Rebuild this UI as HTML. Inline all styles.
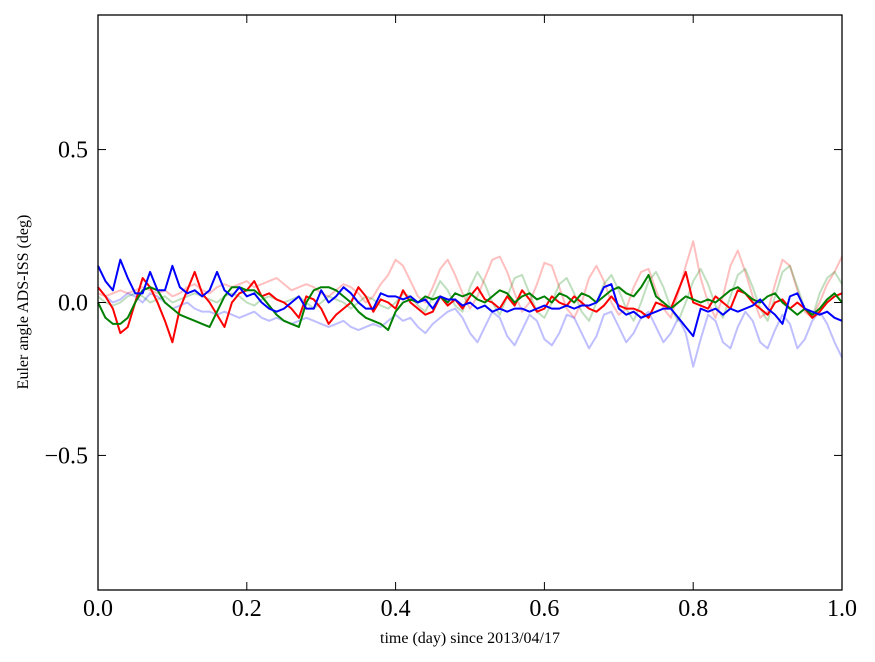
<!DOCTYPE html>
<html><head><meta charset="utf-8"><style>
body{margin:0;background:#fff}
svg{display:block;font-family:"Liberation Serif",serif}
</style></head><body>
<svg id="chart" width="875" height="662" viewBox="0 0 875 662">
<rect x="0" y="0" width="875" height="662" fill="#fff"/>
<g id="series"></g>
<rect x="98" y="15" width="744" height="575" fill="none" stroke="#000" stroke-width="1.3"/>
<g id="axes"></g>
<text x="470" y="643" font-size="16" text-anchor="middle">time (day) since 2013/04/17</text>
<text transform="translate(28,302) rotate(-90)" font-size="16" text-anchor="middle">Euler angle ADS-ISS (deg)</text>
</svg>
<script>
const xTicks=[0,0.2,0.4,0.6,0.8,1.0];
const xTickLabels=["0.0","0.2","0.4","0.6","0.8","1.0"];
const yTicks=[-0.5,0,0.5];
const yTickLabels=["\u22120.5","0.0","0.5"];
const redLight=[0.03,0.02,0.03,0.04,0.03,0.04,0.05,0.04,0.03,0.04,0.02,0.03,0.05,0.06,0.04,0.03,0.05,0.06,0.05,0.06,0.07,0.05,0.06,0.07,0.08,0.06,0.04,0.05,0.06,0.05,0.03,0.02,0.04,0.06,0.05,0.03,0.0,0.02,0.06,0.09,0.14,0.12,0.07,0.02,0.0,0.05,0.11,0.14,0.09,0.03,-0.02,0.02,0.08,0.14,0.15,0.1,0.03,-0.03,0.0,0.06,0.13,0.12,0.05,-0.02,-0.05,0.0,0.08,0.12,0.07,0.0,-0.04,-0.02,0.05,0.1,0.11,0.04,-0.02,-0.05,0.03,0.12,0.2,0.08,0.0,-0.05,0.02,0.12,0.17,0.1,0.02,-0.05,-0.03,0.06,0.14,0.12,0.04,-0.03,-0.05,0.0,0.06,0.1,0.15];
const blueLight=[0.05,0.02,0.0,0.01,0.03,0.02,0.0,0.03,0.02,0.0,-0.02,-0.01,0.0,-0.02,-0.03,-0.03,-0.04,-0.03,-0.04,-0.05,-0.04,-0.03,-0.05,-0.06,-0.05,-0.06,-0.07,-0.06,-0.05,-0.06,-0.07,-0.08,-0.07,-0.06,-0.08,-0.09,-0.08,-0.07,-0.08,-0.06,-0.04,-0.06,-0.05,-0.08,-0.1,-0.07,-0.05,-0.03,-0.02,-0.05,-0.1,-0.13,-0.08,-0.03,-0.05,-0.11,-0.14,-0.09,-0.04,-0.06,-0.12,-0.14,-0.1,-0.04,-0.05,-0.1,-0.15,-0.11,-0.04,-0.03,-0.08,-0.13,-0.1,-0.05,-0.03,-0.08,-0.13,-0.1,-0.05,-0.1,-0.21,-0.12,-0.04,-0.06,-0.13,-0.15,-0.08,-0.03,-0.06,-0.13,-0.15,-0.09,-0.04,-0.07,-0.15,-0.12,-0.06,-0.03,-0.07,-0.13,-0.18];
const greenLight=[0.02,0.0,-0.01,0.0,0.02,0.03,0.02,0.0,0.01,0.02,0.0,0.01,0.02,0.03,0.02,0.01,0.0,0.02,0.03,0.02,0.0,-0.01,0.01,0.02,0.01,0.0,0.01,0.02,0.0,-0.02,0.0,0.02,0.01,0.0,-0.02,0.0,0.02,0.01,-0.01,-0.02,0.0,0.03,0.02,-0.01,-0.03,0.02,0.07,0.04,-0.01,-0.03,0.05,0.1,0.06,0.0,-0.04,0.02,0.08,0.09,0.03,-0.03,-0.05,0.0,0.06,0.08,0.03,-0.03,-0.06,0.0,0.06,0.09,0.04,-0.02,-0.06,0.0,0.07,0.1,0.05,-0.02,-0.06,0.0,0.07,0.11,0.06,-0.01,-0.05,0.02,0.09,0.11,0.05,-0.02,-0.06,0.02,0.1,0.12,0.05,-0.02,-0.05,0.03,0.08,0.1,0.06];
const red=[0.05,0.02,-0.02,-0.1,-0.08,0.0,0.08,0.05,0.0,-0.06,-0.13,-0.02,0.04,0.1,0.03,0.0,-0.04,-0.08,0.0,0.03,0.04,0.07,0.02,0.03,0.01,0.0,-0.02,-0.05,0.02,0.01,-0.02,-0.07,-0.04,-0.02,0.0,0.05,0.02,-0.03,0.01,0.0,-0.02,0.04,0.0,-0.02,-0.04,-0.03,0.02,-0.01,0.01,-0.02,0.02,0.05,0.01,0.0,-0.02,0.02,-0.01,0.04,0.01,-0.03,-0.02,0.02,0.0,-0.01,0.02,0.0,-0.02,-0.03,-0.01,0.02,-0.01,-0.02,-0.02,-0.03,-0.05,0.0,-0.01,-0.02,0.04,0.1,0.0,-0.01,-0.02,0.02,0.0,-0.02,0.04,0.03,0.0,-0.02,-0.04,0.0,0.01,-0.02,0.0,-0.02,-0.05,-0.03,0.0,0.02,0.03];
const green=[0.0,-0.05,-0.07,-0.07,-0.05,0.0,0.04,0.05,0.04,0.0,-0.02,-0.04,-0.05,-0.06,-0.07,-0.08,-0.03,0.02,0.05,0.05,0.04,0.04,0.02,-0.01,-0.04,-0.06,-0.07,-0.08,0.0,0.04,0.05,0.05,0.04,0.02,0.0,-0.03,-0.05,-0.06,-0.07,-0.09,-0.03,0.0,0.01,0.0,0.02,0.01,0.02,0.0,0.03,0.02,0.03,0.01,0.0,0.02,0.04,0.03,0.0,0.02,0.03,0.01,0.02,0.0,0.03,0.02,0.0,0.03,0.02,0.0,0.02,0.04,0.05,0.03,0.02,0.05,0.09,0.02,0.0,-0.02,0.0,0.02,0.01,0.0,0.01,0.0,0.02,0.04,0.05,0.03,0.01,0.0,0.02,0.03,0.0,-0.02,-0.04,-0.02,-0.04,-0.02,0.01,0.03,0.0];
const blue=[0.12,0.07,0.04,0.14,0.08,0.03,0.03,0.1,0.04,0.04,0.12,0.05,0.03,0.04,0.02,0.04,0.1,0.04,0.02,0.05,0.02,0.03,0.0,-0.02,-0.03,-0.02,0.0,0.02,-0.02,-0.02,0.04,0.0,0.02,0.05,0.03,0.0,-0.02,-0.02,0.03,0.02,0.02,0.01,0.02,0.0,0.01,-0.02,0.02,0.01,0.01,-0.01,0.0,-0.02,-0.01,-0.03,-0.02,-0.03,-0.02,-0.02,-0.03,-0.02,-0.01,-0.02,-0.02,-0.01,-0.02,-0.01,-0.01,0.0,0.05,0.06,-0.02,-0.04,-0.03,-0.05,-0.04,-0.03,-0.02,-0.02,-0.05,-0.08,-0.11,-0.02,-0.03,-0.02,-0.04,-0.02,-0.03,-0.02,-0.01,0.01,-0.02,-0.04,-0.07,0.02,0.03,-0.02,-0.03,-0.04,-0.03,-0.05,-0.06];

const NS="http://www.w3.org/2000/svg";
const X0=98,X1=842,Y0=15,Y1=590,YMIN=-0.94,YMAX=0.94;
function xs(v){return X0+(v-0)/(1-0)*(X1-X0);}
function ys(v){return Y1-(v-YMIN)/(YMAX-YMIN)*(Y1-Y0);}
const series=document.getElementById('series');
function draw(arr,color,op,w,name){
  const n=arr.length;
  const d=arr.map((v,i)=>(i?'L':'M')+xs(i/(n-1)).toFixed(2)+','+ys(v).toFixed(2)).join('');
  const p=document.createElementNS(NS,'path');
  p.setAttribute('d',d);p.setAttribute('fill','none');p.setAttribute('stroke',color);
  p.setAttribute('stroke-opacity',op);p.setAttribute('stroke-width',w);p.setAttribute('stroke-linejoin','round');
  
  
  series.appendChild(p);
}
draw(redLight,'#ff0000',0.25,2,'red-faint-line');
draw(greenLight,'#008000',0.25,2,'green-faint-line');
draw(blueLight,'#0000ff',0.25,2,'blue-faint-line');
draw(red,'#ff0000',1,2,'red-line');
draw(green,'#008000',1,2,'green-line');
draw(blue,'#0000ff',1,2,'blue-line');

const axes=document.getElementById('axes');
function line(x1,y1,x2,y2,name){
  const l=document.createElementNS(NS,'line');
  l.setAttribute('x1',x1);l.setAttribute('y1',y1);l.setAttribute('x2',x2);l.setAttribute('y2',y2);
  l.setAttribute('stroke','#000');l.setAttribute('stroke-width','1');
  
  
  axes.appendChild(l);
}
function text(x,y,s,anchor,name){
  const t=document.createElementNS(NS,'text');
  t.setAttribute('x',x);t.setAttribute('y',y);t.setAttribute('font-size','24');t.setAttribute('text-anchor',anchor);
  t.textContent=s;
  
  
  axes.appendChild(t);
}
xTicks.forEach((v,i)=>{
  const x=xs(v);
  line(x,Y1,x,Y1-8,'x-tick');line(x,Y0,x,Y0+8,'x-tick-top');
  text(x,Y1+26,xTickLabels[i],'middle','x-tick-label');
});
yTicks.forEach((v,i)=>{
  const y=ys(v);
  line(X0,y,X0+8,y,'y-tick');line(X1,y,X1-8,y,'y-tick-right');
  text(X0-10,y+8,yTickLabels[i],'end','y-tick-label');
});
</script>
</body></html>
